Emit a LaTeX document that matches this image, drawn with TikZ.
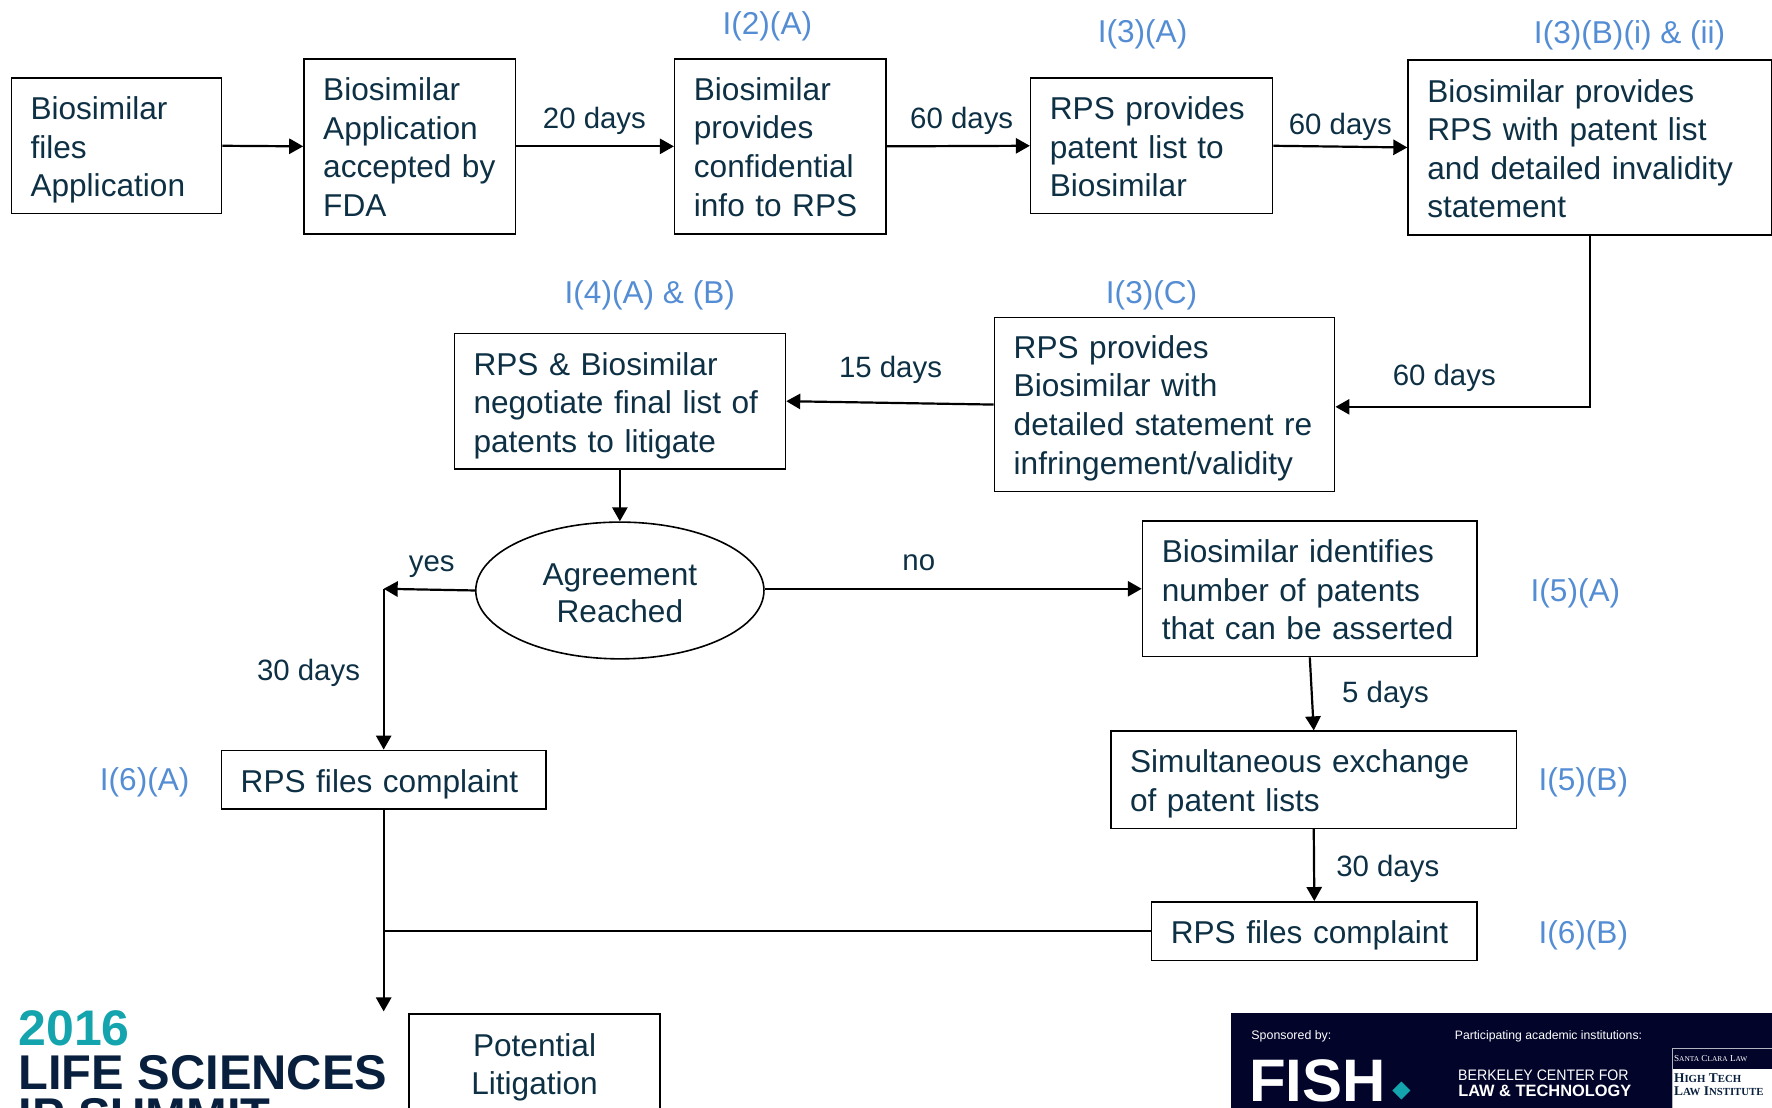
\documentclass[tikz,border=0pt]{standalone}
\usepackage{xcolor}
\usepackage{fontspec}
\setmainfont{Liberation Sans}
\newfontfamily\logoserif{Liberation Serif}
\usetikzlibrary{shapes.geometric, arrows.meta, calc}
\definecolor{stepink}{RGB}{14,48,68}
\definecolor{refblue}{RGB}{84,141,212}
\definecolor{logoteal}{RGB}{19,164,174}
\definecolor{logonavy}{RGB}{8,32,62}
\definecolor{panelnavy}{RGB}{2,4,42}
\newcommand{\capsword}[2]{#1{\fontsize{3.7}{5}\selectfont #2}}
\newcommand{\capsbold}[2]{#1{\fontsize{5.4}{7}\selectfont #2}}

\begin{document}
\begin{tikzpicture}[
    x=0.565pt, y=-0.565pt,
    stepbox/.style 2 args={draw, line width=0.8pt, text=stepink, align=left, inner xsep=9.6pt, inner ysep=0pt,
        text width=#1*0.565pt-19.2pt, minimum height=#2*0.565pt, font=\fontsize{15.8}{19.3}\selectfont},
    nudge/.style={execute at begin node={\rule{0pt}{\dimexpr 11.5pt+#1\relax}}},
    decisionnode/.style={draw, line width=0.8pt, ellipse, text=stepink, align=center, inner sep=0pt,
        minimum width=255*0.565pt, minimum height=121*0.565pt, font=\fontsize{15.8}{18.8}\selectfont},
    reflabel/.style={text=refblue, inner sep=0pt, font=\fontsize{15.8}{19}\selectfont},
    daylabel/.style={text=stepink, inner sep=0pt, font=\fontsize{14.7}{18}\selectfont},
    flowline/.style={-{Triangle[length=7pt, width=7.6pt]}, line width=1.1pt},
    plainline/.style={line width=1.1pt},
    logotext/.style={anchor=base west, inner sep=0pt, font=\bfseries\fontsize{24.4}{26}\selectfont, text=logonavy},
    paneltext/.style={anchor=base west, inner sep=0pt, text=white}
]
    \useasboundingbox (0,0) rectangle (1568,980);
    \clip (0,0) rectangle (1568,980);

    % Top row
    \node[stepbox={186}{120}, nudge=4pt] (filed) at (103,129) {Biosimilar\\files\\Application};
    \node[stepbox={187}{155}, nudge=0.6pt] (accepted) at (362.5,129.5) {Biosimilar\\Application\\accepted by\\FDA};
    \node[stepbox={187}{155}, nudge=0.6pt] (confinfo) at (690.5,129.5) {Biosimilar\\provides\\confidential\\info to RPS};
    \node[stepbox={214}{120}, nudge=1.1pt] (rpslist) at (1019,129) {RPS provides\\patent list to\\Biosimilar};
    \node[stepbox={322}{155}, nudge=1.1pt] (bioslist) at (1407,130.5) {Biosimilar provides\\RPS with patent list\\and detailed invalidity\\statement};

    % Second row
    \node[stepbox={301}{154}, nudge=3.4pt] (rpsstmt) at (1030.5,358) {RPS provides\\Biosimilar with\\detailed statement re\\infringement/validity};
    \node[stepbox={293}{120}, nudge=4.5pt] (negotiate) at (548.5,355) {RPS \& Biosimilar\\negotiate final list of\\patents to litigate};

    % Decision and its branches
    \node[decisionnode] (agreement) at (548.5,522.5) {\rule{0pt}{13.6pt}Agreement\\Reached};
    \node[stepbox={296}{120}, nudge=1.1pt] (identify) at (1159,521) {Biosimilar identifies\\number of patents\\that can be asserted};
    \node[stepbox={359}{86}, nudge=4pt] (exchange) at (1162.5,690) {Simultaneous exchange\\of patent lists};
    \node[stepbox={288}{52}, nudge=4.5pt] (complaintb) at (1163,824) {RPS files complaint};
    \node[stepbox={287}{52}, nudge=4.5pt] (complainta) at (339.5,690) {RPS files complaint};
    \node[stepbox={222}{88}, align=center, nudge=4pt] (litigation) at (473,941) {Potential\\Litigation};

    % Free ends of connectors
    \coordinate (yesend) at (339.5,521);
    \coordinate (joinpt) at (339.5,824);
    \coordinate (litend) at (339.5,895);

    % Connectors
    \draw[flowline] (filed.east) -- (accepted.west);
    \draw[flowline] (accepted.east) -- (confinfo.west);
    \draw[flowline] (confinfo.east) -- (rpslist.west);
    \draw[flowline] (rpslist.east) -- (bioslist.west);
    \draw[flowline] (bioslist.south) |- ($(rpsstmt.east)+(0,2)$);
    \draw[flowline] (rpsstmt.west) -- (negotiate.east);
    \draw[flowline] (negotiate.south) -- (agreement.north);
    \draw[flowline] (agreement.west) -- (yesend);
    \draw[flowline] (yesend) -- (complainta.north);
    \draw[flowline] (agreement.east |- identify.west) -- (identify.west);
    \draw[flowline] (identify.south) -- (exchange.north);
    \draw[flowline] (exchange.south) -- (complaintb.north);
    \draw[flowline] (complainta.south) -- (litend);
    \draw[plainline] (complaintb.west) -- (joinpt);

    % Day labels
    \node[daylabel] (d20) at (526,107) {20 days};
    \node[daylabel] (d60a) at (851,107) {60 days};
    \node[daylabel] (d60b) at (1186,112) {60 days};
    \node[daylabel] (d60c) at (1278,334) {60 days};
    \node[daylabel] (d15) at (788,327) {15 days};
    \node[daylabel] (lblyes) at (382,501) {yes};
    \node[daylabel] (lblno) at (813,498) {no};
    \node[daylabel] (d30a) at (273,595) {30 days};
    \node[daylabel] (d5) at (1226,615) {5 days};
    \node[daylabel] (d30b) at (1228,769) {30 days};

    % Section references
    \node[reflabel] (refa) at (679,23) {I(2)(A)};
    \node[reflabel] (refb) at (1011,30) {I(3)(A)};
    \node[reflabel] (refc) at (1442,31) {I(3)(B)(i) \& (ii)};
    \node[reflabel] (refd) at (1019,261) {I(3)(C)};
    \node[reflabel] (refe) at (575,261) {I(4)(A) \& (B)};
    \node[reflabel] (reff) at (1394,525) {I(5)(A)};
    \node[reflabel] (refg) at (1401,692) {I(5)(B)};
    \node[reflabel] (refh) at (1401,828) {I(6)(B)};
    \node[reflabel] (refi) at (128,692) {I(6)(A)};

    % Summit logo
    \node[logotext, text=logoteal, font=\bfseries\fontsize{25}{26}\selectfont] (logoyear) at (16,925) {2016};
    \node[logotext] (logotitle) at (16,964) {LIFE SCIENCES};
    \node[logotext] (logosummit) at (16,1002) {IP SUMMIT};

    % Sponsor panel
    \fill[panelnavy] (1089,896) rectangle (1568,980);
    \node[paneltext, font=\fontsize{6.2}{7}\selectfont] (sponsored) at (1107,920) {Sponsored by:};
    \node[paneltext, font=\fontsize{6.1}{7}\selectfont] (academic) at (1287,920) {Participating academic institutions:};
    \node[paneltext, font=\bfseries\fontsize{30}{32}\selectfont] (fish) at (1105,975) {FISH};
    \fill[logoteal] (1240,957) -- (1248,965) -- (1240,973) -- (1232,965) -- cycle;
    \node[paneltext, xscale=0.93, font=\fontsize{7.6}{9}\selectfont] (berkeley) at (1290,956) {BERKELEY CENTER FOR};
    \node[paneltext, font=\bfseries\fontsize{8.2}{9}\selectfont] (lawtech) at (1290,970) {LAW \& TECHNOLOGY};
    \draw[white!70!panelnavy, line width=0.5pt] (1479.5,928) rectangle (1568,980);
    \fill[white] (1480,946) rectangle (1568,980);
    \node[paneltext, font=\logoserif\fontsize{4.6}{6}\selectfont] (santaclara) at (1481,939) {\capsword{S}{ANTA} \capsword{C}{LARA} \capsword{L}{AW}};
    \node[paneltext, text=logonavy, font=\logoserif\bfseries\fontsize{6.7}{8}\selectfont] (hightech) at (1481,958) {\capsbold{H}{IGH} \capsbold{T}{ECH}};
    \node[paneltext, text=logonavy, font=\logoserif\bfseries\fontsize{6.7}{8}\selectfont] (lawinst) at (1481,969) {\capsbold{L}{AW} \capsbold{I}{NSTITUTE}};
\end{tikzpicture}
\end{document}
